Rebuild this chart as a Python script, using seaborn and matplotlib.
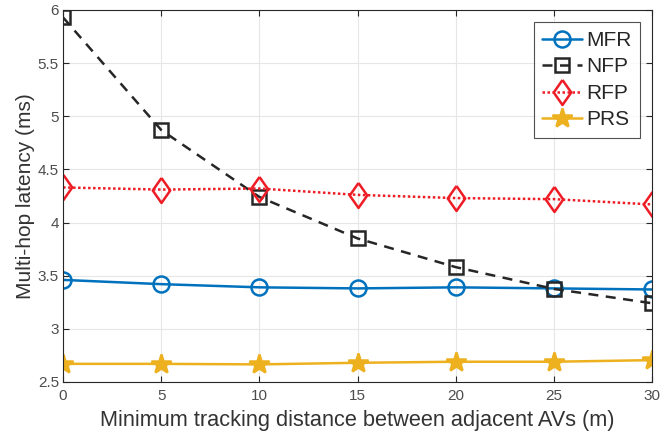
import matplotlib
matplotlib.use("Agg")
import matplotlib.pyplot as plt
import seaborn as sns
import pandas as pd

distance = [0, 5, 10, 15, 20, 25, 30]
mfr = [3.46, 3.42, 3.39, 3.38, 3.39, 3.38, 3.37]
nfp = [5.93, 4.87, 4.24, 3.85, 3.58, 3.375, 3.24]
rfp = [4.33, 4.31, 4.32, 4.26, 4.23, 4.22, 4.17]
prs = [2.67, 2.67, 2.665, 2.68, 2.69, 2.69, 2.705]
series_names = ["MFR", "NFP", "RFP", "PRS"]
x_ticks = [0, 5, 10, 15, 20, 25, 30]
y_ticks = [2.5, 3, 3.5, 4, 4.5, 5, 5.5, 6]
y_tick_labels = ["2.5", "3", "3.5", "4", "4.5", "5", "5.5", "6"]

sns.set_style("white")
plt.rcParams['font.family'] = ['Liberation Sans', 'DejaVu Sans']

fig = plt.figure(figsize=(6.71, 4.34), dpi=100)
ax = fig.add_axes([0.094, 0.12, 0.878, 0.857])

diamond = [(0, 1), (0.7, 0), (0, -1), (-0.7, 0), (0, 1)]
styles = {
    "MFR": dict(color="#0072BD", linestyle="-", marker="o", markersize=11.5),
    "NFP": dict(color="#262626", linestyle=(0, (4, 3)), marker="s", markersize=9.5),
    "RFP": dict(color="#EE1C25", linestyle=(0, (1, 1)), marker=diamond, markersize=18),
    "PRS": dict(color="#EDB120", linestyle="-", marker="*", markersize=15),
}
values = {"MFR": mfr, "NFP": nfp, "RFP": rfp, "PRS": prs}

for name in series_names:
    st = styles[name]
    df = pd.DataFrame({"x": distance, "y": values[name]})
    sns.lineplot(data=df, x="x", y="y", ax=ax, color=st["color"],
                 linestyle=st["linestyle"], linewidth=1.8,
                 marker=st["marker"], markersize=st["markersize"],
                 markerfacecolor="none" if name != "PRS" else st["color"],
                 markeredgecolor=st["color"], markeredgewidth=1.8,
                 label=name)

ax.set_xlim(0, 30)
ax.set_ylim(2.5, 6)
ax.set_xticks(x_ticks)
ax.set_yticks(y_ticks)
ax.set_yticklabels(y_tick_labels)
ax.grid(True, color="#e6e6e6", linewidth=0.8)
ax.set_axisbelow(True)
for sp in ax.spines.values():
    sp.set_color("#262626")
    sp.set_linewidth(0.8)
ax.tick_params(direction="in", length=4, width=0.8, colors="#262626",
               labelcolor="#4d4d4d", labelsize=11, top=True, right=True,
               bottom=True, left=True)
ax.tick_params(axis="y", pad=3)
ax.tick_params(axis="x", pad=5)
ax.set_xlabel("Minimum tracking distance between adjacent AVs (m)",
              fontsize=15.7, color="#333333", labelpad=5)
ax.set_ylabel("Multi-hop latency (ms)", fontsize=15, color="#333333", labelpad=2)

leg = ax.legend(loc="upper right", fontsize=15, frameon=True, fancybox=False,
                edgecolor="#262626", borderpad=0.4, labelspacing=0.36,
                handlelength=1.9, handletextpad=0.2, borderaxespad=0.6)
leg.get_frame().set_linewidth(0.8)

fig.savefig("out.png", dpi=100)
